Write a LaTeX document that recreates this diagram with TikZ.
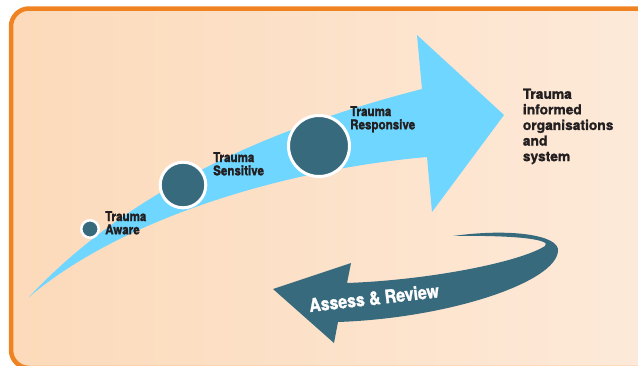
\documentclass[tikz,border=0pt]{standalone}
\usepackage{fontspec}
\setmainfont{TeX Gyre Heros}[BoldFeatures={FakeBold=1.2}]
\newfontfamily\condfont{TeX Gyre Heros}[FakeStretch=0.86, BoldFeatures={FakeBold=1.4}]
\definecolor{peachL}{RGB}{252,218,186}
\definecolor{peachR}{RGB}{253,234,218}
\definecolor{framecol}{RGB}{240,131,33}
\definecolor{arrowblue}{RGB}{110,214,255}
\definecolor{stagecol}{RGB}{56,106,126}
\definecolor{inkcol}{RGB}{35,31,32}
\tikzset{%
   stage/.style={circle, inner sep=0mm, outer sep=0mm, draw=white, line width=3pt, fill=stagecol},
   stagetext/.style={anchor=north west, inner sep=0pt, align=left, text=inkcol,
     font=\condfont\bfseries\fontsize{13.5}{13.3}\selectfont},
}

\begin{document}
\begin{tikzpicture}[x=1pt, y=-1pt]
   \useasboundingbox (0,0) rectangle (638,365);
   \clip (0,0) rectangle (638,365);
   \shade[left color=peachL, right color=peachR, rounded corners=18pt] (11,8.5) rectangle (660,368);
   \draw[framecol, line width=4.5pt, rounded corners=18pt] (11,8.5) rectangle (660,368);
   % the way forward
   \fill[arrowblue] (29,297) .. controls (120,200) and (250,133) .. (422,89)
      -- (417,35) -- (504,115) -- (432,212) -- (427,157)
      .. controls (280,170) and (120,220) .. (29,297) -- cycle;
   \node[stage, line width=2.5pt, minimum size=17.5pt] (aware) at (90,229) {};
   \node[stage, minimum size=45.6pt] (sens) at (183,185) {};
   \node[stage, minimum size=61pt] (resp) at (319,146) {};
   \node[stagetext] (awareT) at (105,211) {Trauma\\Aware};
   \node[stagetext] (sensT) at (213,152) {Trauma\\Sensitive};
   \node[stagetext] (respT) at (350,106) {Trauma\\Responsive};
   \node[stagetext, font=\bfseries\fontsize{13.8}{15.6}\selectfont] (goal) at (522.7,88.5)
      {Trauma\\informed\\organisations\\and\\system};
   % going round again
   \fill[stagecol] (273,289) -- (351,263) -- (347,283)
      .. controls (430,280) and (520,262) .. (545,246)
      .. controls (552,240) and (520,235) .. (453,236)
      .. controls (510,228) and (560,235) .. (558,251)
      .. controls (556,282) and (450,318) .. (338,322)
      -- (334,343) -- cycle;
   \node[text=white, rotate=6.5, inner sep=0pt, font=\condfont\bfseries\fontsize{18.5}{18}\selectfont] (review) at (374,298) {Assess \& Review};
\end{tikzpicture}
\end{document}
